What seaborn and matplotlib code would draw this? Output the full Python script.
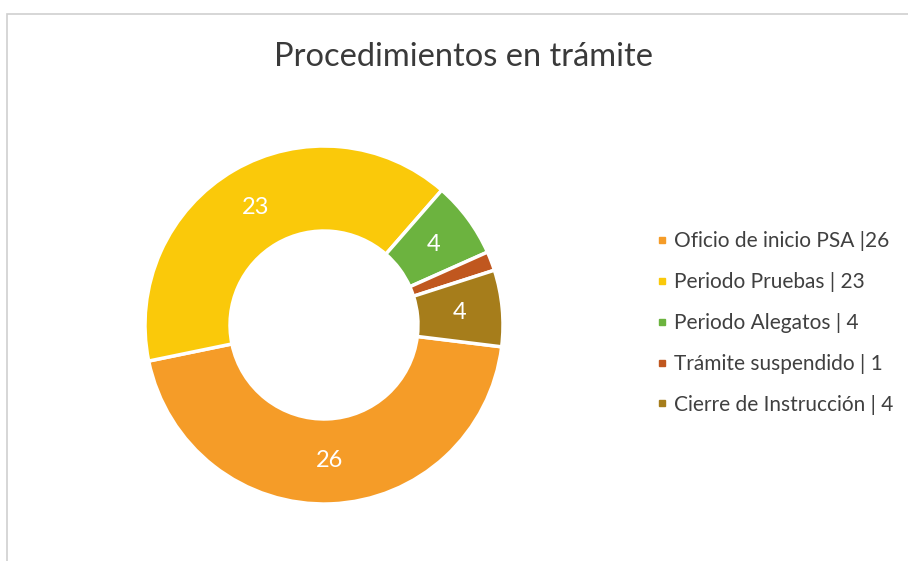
import matplotlib.pyplot as plt
import matplotlib.patches as mpatches
from matplotlib.lines import Line2D
import seaborn as sns

sns.set_style("white")
plt.rcParams['font.family'] = ['Lato', 'DejaVu Sans']

# data
categorias = ["Oficio de inicio PSA |26", "Periodo Pruebas | 23", "Periodo Alegatos | 4",
              "Trámite suspendido | 1", "Cierre de Instrucción | 4"]
valores = [26, 23, 4, 1, 4]
colores = ["#F59C28", "#FAC90A", "#6CB33F", "#C0571F", "#A67D1B"]

total = sum(valores)

fig = plt.figure(figsize=(9.08, 5.61), dpi=100)
fig.patch.set_facecolor("white")

# thin grey frame (chart border, partially visible)
fig.add_artist(mpatches.Rectangle((7 / 908, -0.01), 1.05, 1 - 14 / 561 + 0.01,
                                  transform=fig.transFigure, fill=False,
                                  edgecolor="#cfcfcf", linewidth=1.2))

R = 179
cx, cy = 324, 325
ax = fig.add_axes([(cx - R) / 908, (561 - cy - R) / 561, 2 * R / 908, 2 * R / 561])


def etiqueta(p):
    v = round(p * total / 100)
    return "" if v < 2 else str(v)


wedges, textos, autotextos = ax.pie(
    valores, colors=colores, startangle=-7, counterclock=False, radius=1,
    autopct=etiqueta, pctdistance=0.76,
    wedgeprops=dict(width=0.475, edgecolor="white", linewidth=2.5),
    textprops=dict(color="white", fontsize=17))
ax.set_xlim(-1, 1)
ax.set_ylim(-1, 1)
ax.axis("off")

fig.text(463 / 908, 1 - 57 / 561, "Procedimientos en trámite", ha="center", va="center",
         fontsize=23.5, color="#3a3a3a")

handles = [Line2D([0], [0], marker="s", linestyle="", markersize=5, color=c) for c in colores]
fig.legend(handles, categorias, loc="center left", bbox_to_anchor=(646 / 908, 1 - 323 / 561),
           frameon=False, fontsize=15, labelspacing=1.0, handlelength=0.5,
           handletextpad=0.35, borderpad=0, labelcolor="#404040")

fig.savefig("out.png", dpi=100, facecolor="white")
